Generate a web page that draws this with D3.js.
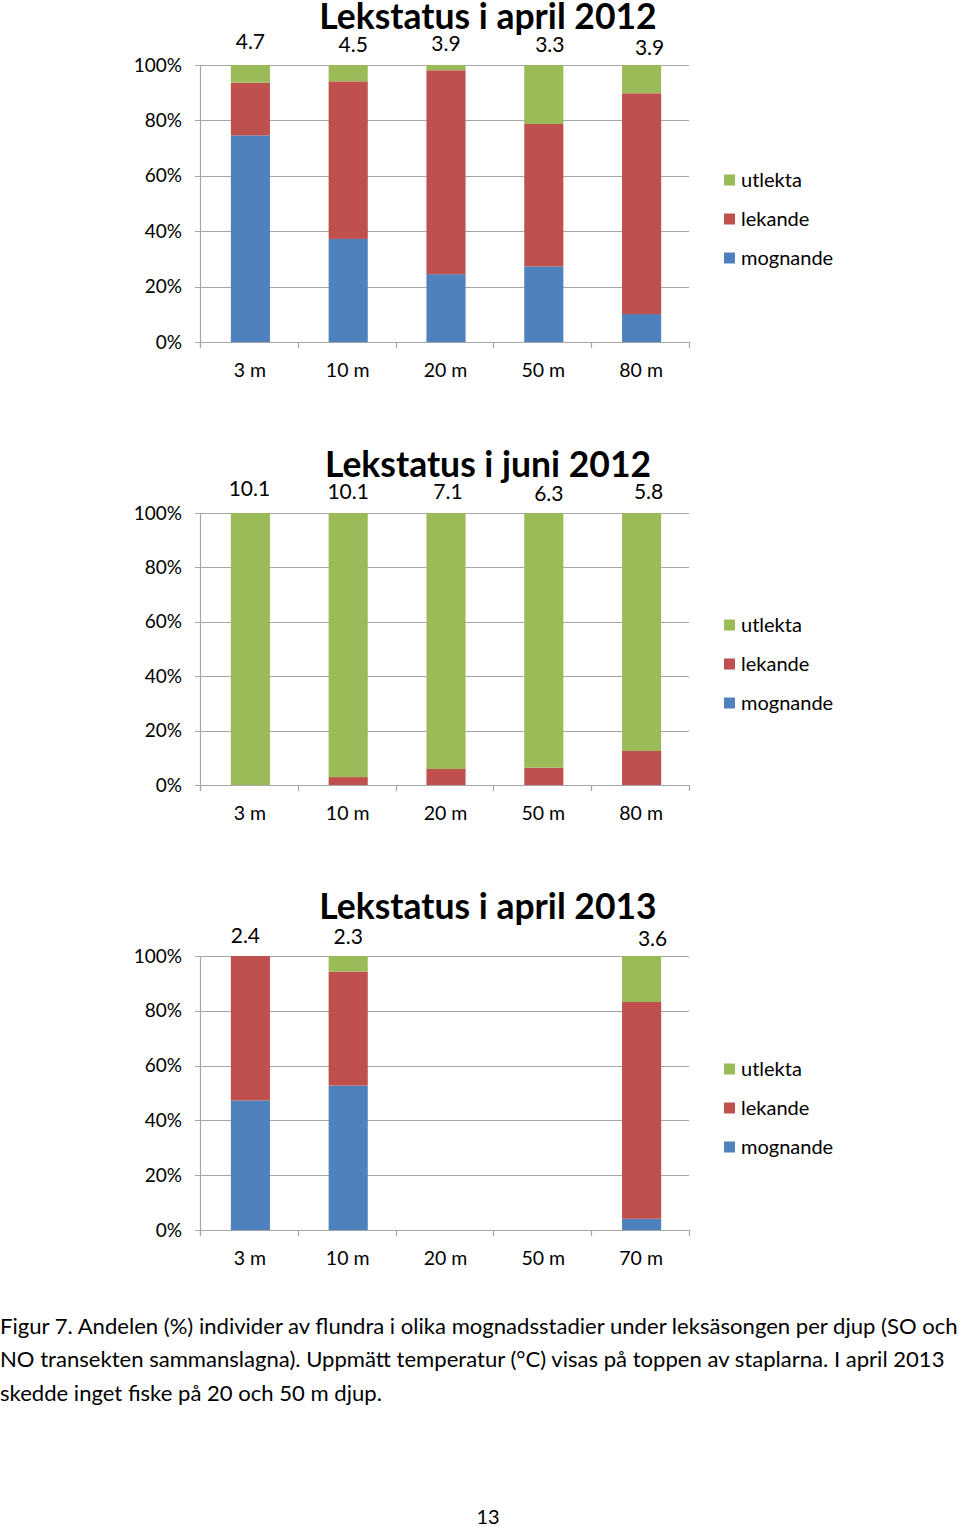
<!DOCTYPE html>
<html><head><meta charset="utf-8">
<script src="https://cdn.jsdelivr.net/npm/d3@7"></script>
<style>
html,body{margin:0;padding:0;background:#fff;}
svg{display:block;font-family:Lato,"Open Sans",sans-serif;}
</style></head>
<body>
<svg id="chart" width="960" height="1527"></svg>
<script>
// ---- data ----
const seriesNames = ["mognande", "lekande", "utlekta"];
const legendOrder = ["utlekta", "lekande", "mognande"];
const seriesColors = ["#4F81BD", "#C0504D", "#9BBB59"];
const yTicks = [0, 0.2, 0.4, 0.6, 0.8, 1.0];

const titles = ["Lekstatus i april 2012", "Lekstatus i juni 2012", "Lekstatus i april 2013"];

const depthsApr2012 = ["3 m", "10 m", "20 m", "50 m", "80 m"];
const mognandeApr2012 = [0.746, 0.372, 0.245, 0.273, 0.101];
const lekandeApr2012  = [0.190, 0.569, 0.736, 0.514, 0.797];
const utlektaApr2012  = [0.064, 0.059, 0.019, 0.213, 0.102];
const tempApr2012 = ["4.7", "4.5", "3.9", "3.3", "3.9"];

const depthsJun2012 = ["3 m", "10 m", "20 m", "50 m", "80 m"];
const mognandeJun2012 = [0, 0, 0, 0, 0];
const lekandeJun2012  = [0, 0.029, 0.059, 0.064, 0.125];
const utlektaJun2012  = [1.0, 0.971, 0.941, 0.936, 0.875];
const tempJun2012 = ["10.1", "10.1", "7.1", "6.3", "5.8"];

const depthsApr2013 = ["3 m", "10 m", "20 m", "50 m", "70 m"];
const mognandeApr2013 = [0.473, 0.527, null, null, 0.041];
const lekandeApr2013  = [0.527, 0.416, null, null, 0.791];
const utlektaApr2013  = [0.0, 0.057, null, null, 0.168];
const tempApr2013 = ["2.4", "2.3", null, null, "3.6"];

const captionLines = [
  "Figur 7. Andelen (%) individer av flundra i olika mognadsstadier under leksäsongen per djup (SO och",
  "NO transekten sammanslagna). Uppmätt temperatur (°C) visas på toppen av staplarna. I april 2013",
  "skedde inget fiske på 20 och 50 m djup."
];
const pageNumber = "13";

// ---- layout ----
const charts = [
  {title: titles[0], depths: depthsApr2012, vals: [mognandeApr2012, lekandeApr2012, utlektaApr2012], temps: tempApr2012,
   y100: 65, y0: 342, titleY: 29, tempDy: [-23, -20, -21, -20, -17], tempDx: [0, 5, 0, 6, 8], legendY: 180},
  {title: titles[1], depths: depthsJun2012, vals: [mognandeJun2012, lekandeJun2012, utlektaJun2012], temps: tempJun2012,
   y100: 513, y0: 785, titleY: 477, tempDy: [-24, -21, -21, -19, -21], tempDx: [-1, 0, 2, 5, 7], legendY: 625},
  {title: titles[2], depths: depthsApr2013, vals: [mognandeApr2013, lekandeApr2013, utlektaApr2013], temps: tempApr2013,
   y100: 956, y0: 1230, titleY: 919, tempDy: [-20, -19, 0, 0, -17], tempDx: [-5, 0, 0, 0, 11], legendY: 1069}
];

const svg = d3.select("#chart");
const xLeft = 200, xRight = 689, barShift = 1.5;

charts.forEach(cfg => {
  const g = svg.append("g");
  const y = d3.scaleLinear().domain([0, 1]).range([cfg.y0, cfg.y100]);
  const x = d3.scaleBand().domain(cfg.depths).range([xLeft, xRight]).paddingInner(0.6).paddingOuter(0.3);

  // gridlines
  g.selectAll("line.grid").data(yTicks).join("line")
    .attr("x1", xLeft - 5).attr("x2", xRight)
    .attr("y1", d => Math.round(y(d)) + 0.5).attr("y2", d => Math.round(y(d)) + 0.5)
    .attr("stroke", "#A6A6A6").attr("stroke-width", 1.2);

  // y axis line
  g.append("line").attr("x1", xLeft + 0.5).attr("x2", xLeft + 0.5)
    .attr("y1", cfg.y100).attr("y2", cfg.y0 + 6)
    .attr("stroke", "#A6A6A6").attr("stroke-width", 1.2);

  // y tick labels
  g.selectAll("text.ytick").data(yTicks).join("text")
    .attr("x", 182).attr("y", d => y(d))
    .attr("dy", "0.35em")
    .attr("text-anchor", "end").attr("font-size", 19).attr("fill", "#000")
    .text(d3.format(".0%"));

  // x category tick marks
  const step = x.step();
  const tickXs = d3.range(cfg.depths.length + 1).map(i => xLeft + i * step);
  g.selectAll("line.xtick").data(tickXs).join("line")
    .attr("x1", d => Math.round(d) + 0.5).attr("x2", d => Math.round(d) + 0.5)
    .attr("y1", cfg.y0).attr("y2", cfg.y0 + 6)
    .attr("stroke", "#A6A6A6").attr("stroke-width", 1.2);

  // x labels
  g.selectAll("text.xlab").data(cfg.depths).join("text")
    .attr("x", d => x(d) + x.bandwidth() / 2 + 1).attr("y", cfg.y0 + 28)
    .attr("dy", "0.35em")
    .attr("text-anchor", "middle").attr("font-size", 19.5).attr("fill", "#000")
    .text(d => d);

  // stacked bars
  const rows = cfg.depths.map((d, i) => {
    const r = {depth: d};
    seriesNames.forEach((s, k) => r[s] = cfg.vals[k][i] == null ? 0 : cfg.vals[k][i]);
    return r;
  });
  const stacked = d3.stack().keys(seriesNames)(rows);
  stacked.forEach((layer, k) => {
    g.selectAll(null).data(layer.filter(d => d[1] - d[0] > 0)).join("rect")
      .attr("x", d => x(d.data.depth) + barShift)
      .attr("width", x.bandwidth())
      .attr("y", d => y(d[1]))
      .attr("height", d => y(d[0]) - y(d[1]))
      .attr("fill", seriesColors[k]);
  });

  // temperature labels
  cfg.depths.forEach((d, i) => {
    if (cfg.temps[i] == null) return;
    g.append("text")
      .attr("x", x(d) + x.bandwidth() / 2 + barShift + cfg.tempDx[i])
      .attr("y", cfg.y100 + cfg.tempDy[i])
      .attr("dy", "0.35em")
      .attr("text-anchor", "middle").attr("font-size", 21).attr("fill", "#000")
      .text(cfg.temps[i]);
  });

  // title
  g.append("text").attr("x", 488).attr("y", cfg.titleY)
    .attr("text-anchor", "middle").attr("font-size", 35.5).attr("font-weight", "bold").attr("fill", "#000")
    .text(cfg.title);

  // legend
  legendOrder.forEach((s, j) => {
    const k = seriesNames.indexOf(s);
    const ly = cfg.legendY + j * 39;
    g.append("rect").attr("x", 724).attr("y", ly - 5.5).attr("width", 11).attr("height", 11).attr("fill", seriesColors[k]);
    g.append("text").attr("x", 741).attr("y", ly).attr("dy", "0.35em")
      .attr("font-size", 20).attr("fill", "#000").text(s);
  });
});

// caption
const cap = svg.append("g");
const capTexts = cap.selectAll("text").data(captionLines).join("text")
  .attr("x", 0).attr("y", (d, i) => 1326 + i * 33.5).attr("dy", "0.35em")
  .attr("font-size", 21).attr("fill", "#000").text(d => d);
// fit first line to page width
const w0 = capTexts.nodes()[0].getComputedTextLength();
const fs = 21 * 958 / w0;
capTexts.attr("font-size", fs);

svg.append("text").attr("x", 488).attr("y", 1517).attr("dy", "0.35em")
  .attr("text-anchor", "middle").attr("font-size", 20).attr("fill", "#000").text(pageNumber);
</script>
</body></html>
